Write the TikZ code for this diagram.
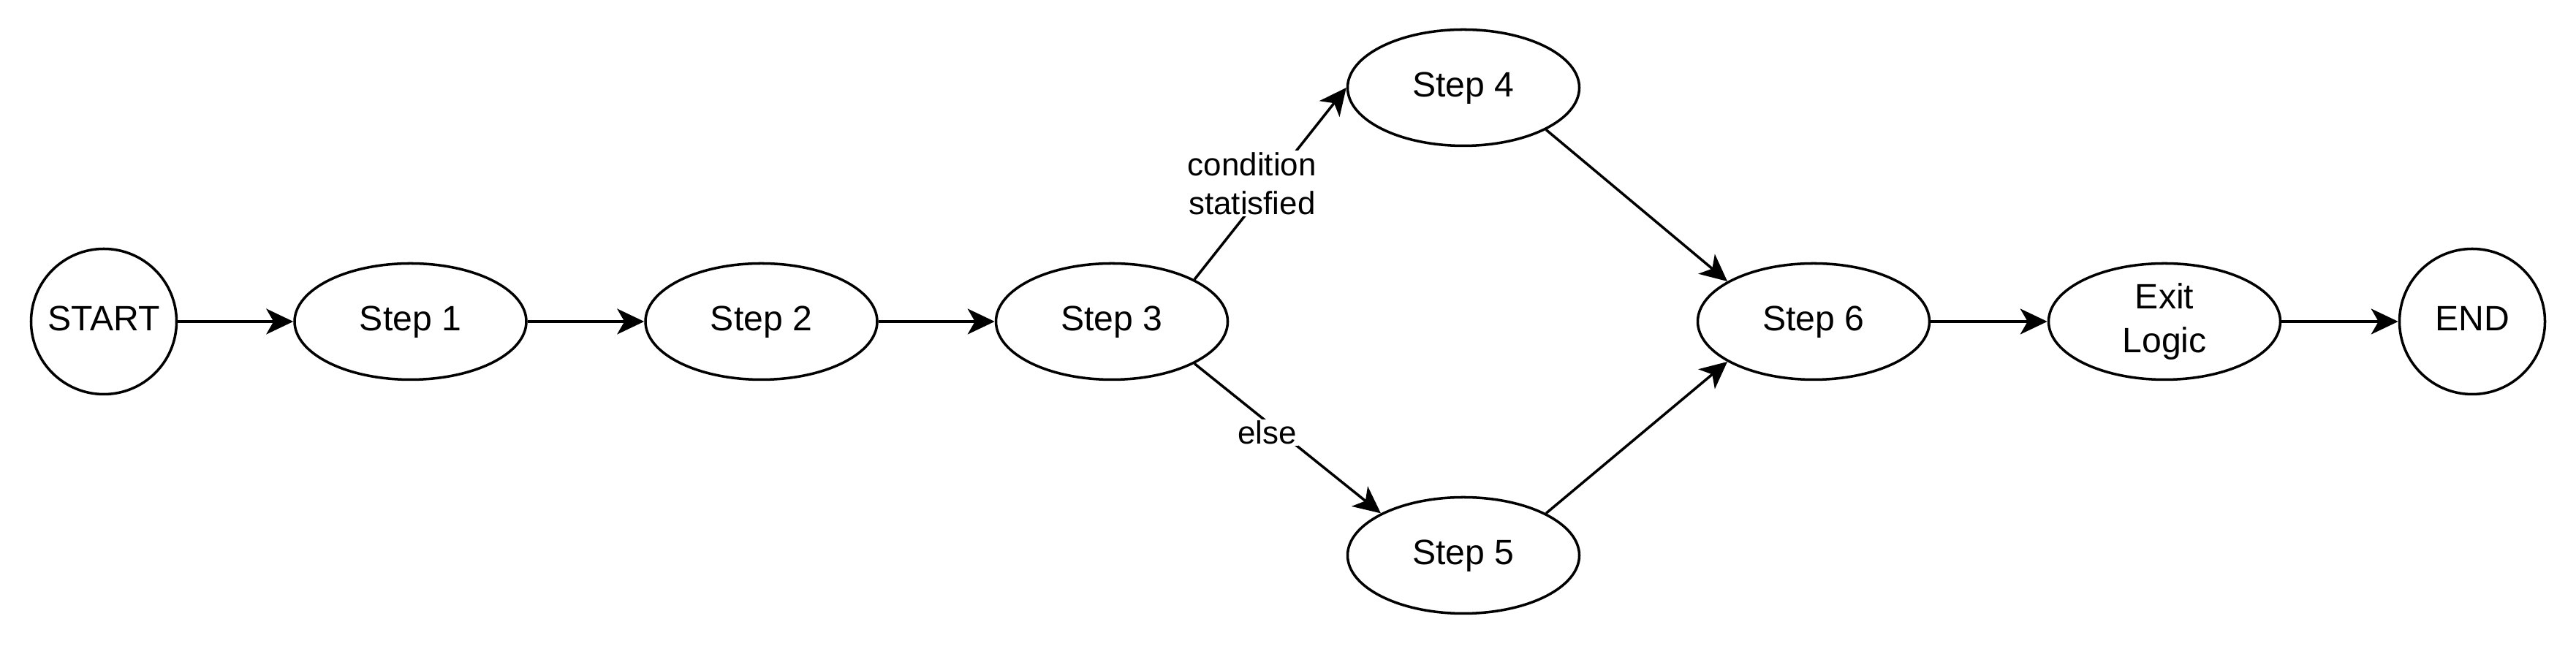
\documentclass[tikz,border=0pt]{standalone}
\usepackage{fontspec}
\setmainfont{Liberation Sans}
\usetikzlibrary{shapes.geometric,arrows.meta}
\tikzset{
  stepbox/.style={ellipse, draw=black, line width=1pt, fill=white, inner sep=0pt,
    minimum width=3.17cm, minimum height=1.59cm, align=center,
    font=\fontsize{13.7}{17.2}\selectfont},
  oneline/.style={text height=0.9465em, text depth=0.2535em},
  termbox/.style={circle, draw=black, line width=1pt, fill=white, inner sep=0pt,
    minimum size=1.99cm, font=\fontsize{13.7}{17.2}\selectfont,
    text height=0.9465em, text depth=0.2535em},
  conn/.style={draw=black, line width=1pt,
    -{Stealth[length=0.37cm, width=0.35cm, inset=0.1cm]}},
  edgelabel/.style={fill=white, inner sep=0.5pt, align=center,
    font=\fontsize{12.5}{15.3}\selectfont}
}
\begin{document}
\begin{tikzpicture}
\useasboundingbox[fill=white] (0,0) rectangle (35.24,8.84);
\node[termbox] (start) at (1.42,4.44) {START};
\node[stepbox, oneline] (s1) at (5.615,4.44) {Step 1};
\node[stepbox, oneline] (s2) at (10.415,4.44) {Step 2};
\node[stepbox, oneline] (s3) at (15.21,4.44) {Step 3};
\node[stepbox, oneline] (s4) at (20.02,7.64) {Step 4};
\node[stepbox, oneline] (s5) at (20.02,1.24) {Step 5};
\node[stepbox, oneline] (s6) at (24.81,4.44) {Step 6};
\node[stepbox] (exit) at (29.61,4.44) {Exit\\Logic};
\node[termbox] (end) at (33.82,4.44) {END};

\draw[conn] (start) -- (s1);
\draw[conn] (s1) -- (s2);
\draw[conn] (s2) -- (s3);
\draw[conn] (s3.27) -- node[edgelabel, pos=0.5, xshift=-0.25cm] {condition\\statisfied} (s4.west);
\draw[conn] (s3.-27) -- node[edgelabel, pos=0.5, xshift=-0.28cm, yshift=0.08cm] {else} (s5.153);
\draw[conn] (s4.-27) -- (s6.155);
\draw[conn] (s5.27) -- (s6.205);
\draw[conn] (s6) -- (exit);
\draw[conn] (exit) -- (end);
\end{tikzpicture}
\end{document}
